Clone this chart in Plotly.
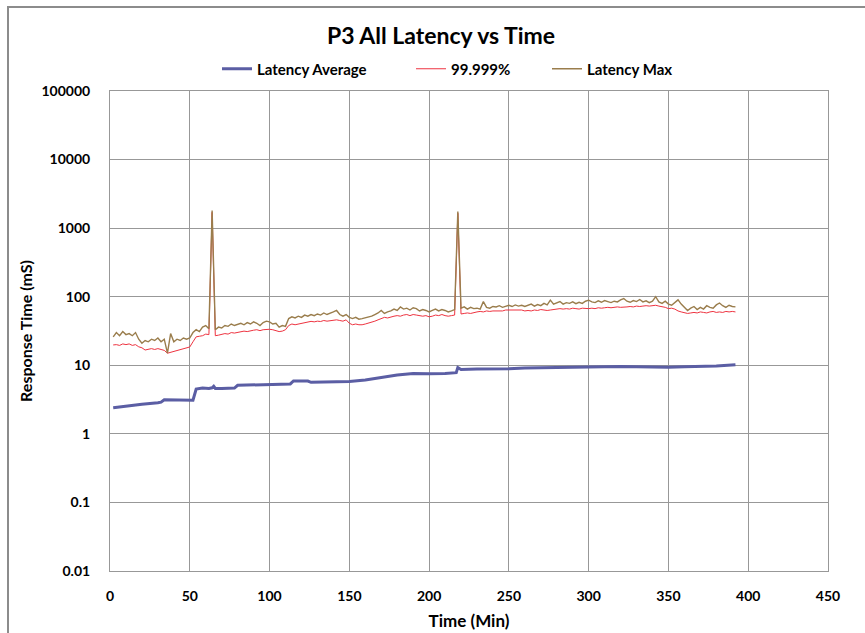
import plotly.graph_objects as go

# sampling grid for percentile / max series (minutes)
time_min = list(range(2, 393, 2))

latency_max = [
    26, 30, 27, 31, 28, 29, 27, 30, 24, 21,
    23, 22, 24, 23, 25, 22, 24, 15, 29, 22,
    24, 23, 25, 24, 25, 30, 33, 31, 36, 38,
    34, 1800, 33, 36, 35, 38, 37, 40, 38, 39,
    41, 39, 42, 40, 43, 41, 38, 42, 44, 43,
    40, 41, 36, 38, 37, 48, 51, 49, 52, 50,
    54, 52, 55, 53, 56, 54, 58, 55, 57, 60,
    63, 55, 52, 55, 50, 48, 50, 47, 48, 49,
    50, 52, 55, 58, 63, 57, 60, 62, 66, 63,
    71, 66, 68, 64, 69, 67, 62, 65, 63, 60,
    63, 66, 62, 65, 63, 60, 62, 65, 1750, 68,
    71, 66, 70, 67, 68, 66, 85, 70, 68, 72,
    71, 74, 70, 73, 75, 72, 76, 73, 75, 72,
    75, 78, 73, 77, 74, 80, 76, 89, 78, 82,
    85, 78, 82, 80, 84, 79, 83, 80, 86, 89,
    84, 82, 87, 83, 88, 85, 82, 86, 84, 90,
    94, 86, 83, 88, 85, 91, 84, 87, 82, 86,
    100, 84, 80, 86, 78, 75, 82, 90, 78, 70,
    63, 68, 72, 65, 70, 66, 74, 70, 68, 76,
    81, 74, 70, 75, 72, 71,
]

p99999 = [
    19.8, 20, 19.5, 20.5, 20, 20.5, 19.5, 20, 18.6, 18,
    16.7, 17, 17.5, 17, 17.5, 17, 16.5, 15, 15.5, 16,
    16.5, 17, 17.5, 18, 18.5, 22, 26, 26.5, 27, 28.5,
    28, 1700, 27, 27.5, 28, 29, 28.5, 30, 29.5, 30,
    31, 31.5, 31, 32, 32.5, 33, 32, 33, 33.5, 33.5,
    33, 32, 31, 31.5, 33, 38, 40, 39, 40, 41,
    42, 42.5, 43.7, 43, 44, 43.5, 45, 44, 45, 46,
    46, 45, 44, 46, 41, 39, 40, 39, 39, 40,
    41, 43, 44, 46, 48, 50, 49, 51, 52, 53,
    52, 54, 55, 53, 55, 54, 53, 52, 53, 51,
    52, 54, 53, 55, 53, 52, 53, 54, 1650, 56,
    57, 58, 57, 59, 60, 61, 60, 62, 61, 62,
    62, 63, 62, 64, 64, 63, 64, 63, 64, 62,
    63, 62, 64, 63, 65, 64, 63, 64, 65, 66,
    67, 66, 67, 66, 68, 67, 66, 68, 67, 67,
    68, 67, 69, 68, 69, 70, 69, 70, 71, 70,
    70, 71, 72, 71, 73, 72, 73, 74, 73, 74,
    75, 73, 72, 70, 67, 68, 66, 62, 60, 58,
    57, 58, 59, 58, 60, 59, 58, 60, 61, 59,
    60, 59, 61, 60, 61, 60,
]

avg_time = [2, 10, 20, 30, 32, 34, 50, 52, 54, 58,
            62, 64, 65, 66, 70, 78, 80, 90, 100, 113,
            115, 124, 126, 140, 150, 160, 170, 180, 190, 200,
            210, 215, 217, 218, 220, 230, 240, 250, 260, 270,
            280, 290, 300, 310, 320, 330, 340, 350, 360, 370,
            380, 392]
latency_avg = [2.4, 2.55, 2.7, 2.85, 2.9, 3.15, 3.1, 3.1, 4.5, 4.65,
               4.6, 4.7, 4.95, 4.6, 4.6, 4.65, 5.1, 5.2, 5.3, 5.35,
               5.9, 5.9, 5.65, 5.7, 5.8, 6.1, 6.7, 7.2, 7.6, 7.5,
               7.6, 7.7, 7.8, 9.3, 8.7, 8.8, 8.8, 8.9, 9.1, 9.2,
               9.4, 9.5, 9.6, 9.7, 9.6, 9.5, 9.4, 9.4, 9.5, 9.6,
               9.8, 10.2]

y_tickvals = [0.01, 0.1, 1, 10, 100, 1000, 10000, 100000]
y_ticktext = ["0.01", "0.1", "1", "10", "100", "1000", "10000", "100000"]
x_tickvals = [0, 50, 100, 150, 200, 250, 300, 350, 400, 450]

FONT = "Lato"
GRID = "#989898"

L, R, T, B = 110, 37, 91, 62
W, H = 865, 633
pw, ph = W - L - R, H - T - B

fig = go.Figure()
fig.add_trace(go.Scatter(x=avg_time, y=latency_avg, mode="lines", name="Latency Average",
                         line=dict(color="#5B5EA4", width=3), legend="legend"))
fig.add_trace(go.Scatter(x=time_min, y=p99999, mode="lines", name="99.999%",
                         line=dict(color="#EE3340", width=1), legend="legend2"))
fig.add_trace(go.Scatter(x=time_min, y=latency_max, mode="lines", name="Latency Max",
                         line=dict(color="#9A7D4C", width=1.4), legend="legend3"))

leg_y = (H - B - 69) / ph


def leg(px):
    return dict(x=(px - L) / pw, xanchor="left", y=leg_y, yanchor="middle",
                font=dict(size=15, family=FONT, weight="bold"), bgcolor="rgba(0,0,0,0)",
                borderwidth=0, itemwidth=30)


fig.update_layout(
    width=W, height=H,
    margin=dict(l=L, r=R, t=T, b=B, autoexpand=False),
    paper_bgcolor="white", plot_bgcolor="white",
    font=dict(family=FONT, color="#000000"),
    title=dict(text="P3 All Latency vs Time", x=(441 - L) / pw, xref="paper",
               xanchor="center", y=1 - 36 / H, yanchor="middle",
               font=dict(size=23, family=FONT, weight="bold")),
    showlegend=True,
    legend=leg(217),
    legend2=leg(411),
    legend3=leg(547),
    xaxis=dict(range=[0, 450], tickvals=x_tickvals, showgrid=True, gridcolor=GRID,
               gridwidth=1, showline=True, linecolor=GRID, linewidth=1, mirror=True,
               zeroline=False, ticks="", ticklabelstandoff=12, automargin=False,
               tickfont=dict(size=14, family=FONT, weight="bold"),
               title=dict(text="Time (Min)", font=dict(size=17, family=FONT, weight="bold"),
                          standoff=12)),
    yaxis=dict(type="log", range=[-2, 5], tickvals=y_tickvals, ticktext=y_ticktext,
               showgrid=True, gridcolor=GRID, gridwidth=1, showline=True, linecolor=GRID,
               linewidth=1, mirror=True, zeroline=False, ticks="", ticklabelstandoff=16,
               automargin=False,
               tickfont=dict(size=14, family=FONT, weight="bold"),
               title=dict(text="Response Time (mS)", font=dict(size=16, family=FONT, weight="bold"),
                          standoff=4)),
)

fig.add_shape(type="rect", xref="paper", yref="paper",
              x0=(8 - L) / pw, x1=1.3, y0=-0.3, y1=(H - B - 7) / ph,
              line=dict(color="#8C8C8C", width=2), fillcolor="rgba(0,0,0,0)", layer="below")

fig.write_html("out.html")
